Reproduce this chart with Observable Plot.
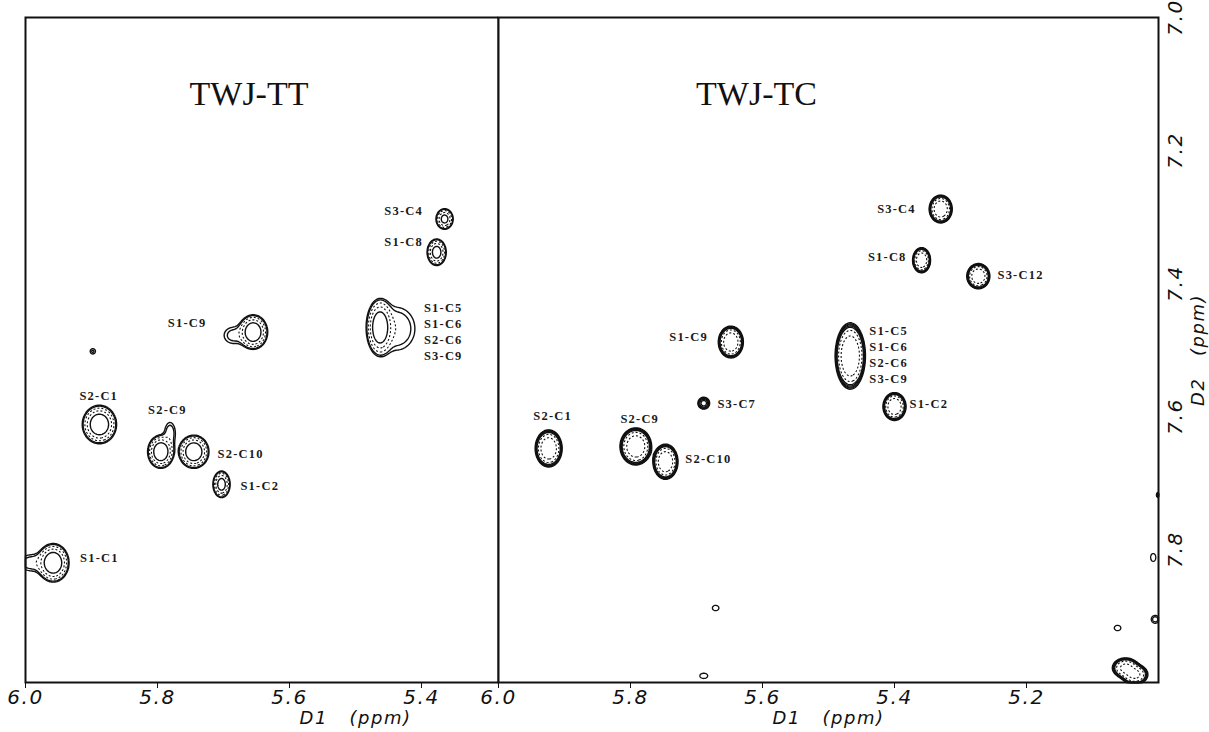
<!DOCTYPE html>
<html>
<head>
<meta charset="utf-8">
<script src="https://cdn.jsdelivr.net/npm/d3@7"></script>
<script src="https://cdn.jsdelivr.net/npm/@observablehq/plot@0.6"></script>
<style>
html, body { margin: 0; padding: 0; background: #fff; }
#wrap { position: relative; width: 1209px; height: 732px; overflow: hidden; background: #fff; }
#left { position: absolute; left: 0; top: 0; }
#right { position: absolute; left: 498px; top: 0; }
svg { overflow: visible; }
g[font-style="italic"] text { letter-spacing: 1.5px; }
g[font-weight="bold"] text { letter-spacing: 1.2px; }
</style>
</head>
<body>
<div id="wrap"><div id="left"></div><div id="right"></div></div>
<script>
// ---------- Data (ppm) ----------
// Left panel: TWJ-TT
const leftTitle = "TWJ-TT";
const leftPeakX  = [5.365, 5.377, 5.463, 5.438, 5.655, 5.685, 5.898, 5.888, 5.795, 5.781, 5.745, 5.703, 5.958, 5.990];
const leftPeakY  = [7.303, 7.353, 7.466, 7.468, 7.473, 7.478, 7.502, 7.612, 7.653, 7.625, 7.653, 7.702, 7.820, 7.820];
const leftPeakWX = [0.013, 0.0145, 0.020, 0.028, 0.022, 0.014, 0.004, 0.026, 0.020, 0.008, 0.023, 0.013, 0.024, 0.020];
const leftPeakWY = [0.0155, 0.020, 0.042, 0.032, 0.026, 0.012, 0.004, 0.029, 0.025, 0.016, 0.025, 0.020, 0.029, 0.012];
const leftPeakAmp = [60, 70, 100, 9, 100, 7, 6, 100, 100, 8, 100, 70, 100, 8];

const leftLabels = ["S3-C4", "S1-C8", "S1-C5\nS1-C6\nS2-C6\nS3-C9", "S1-C9", "S2-C1", "S2-C9", "S2-C10", "S1-C2", "S1-C1"];
const leftLabelX = [5.427, 5.427, 5.367, 5.755, 5.889, 5.785, 5.674, 5.645, 5.888];
const leftLabelY = [7.289, 7.336, 7.471, 7.458, 7.567, 7.589, 7.655, 7.703, 7.811];

// Right panel: TWJ-TC
const rightTitle = "TWJ-TC";
const rightPeakX  = [5.924, 5.792, 5.747, 5.689, 5.330, 5.359, 5.273, 5.467, 5.648, 5.400, 5.671, 5.689, 5.062, 5.005, 5.008, 5.000, 5.050, 5.036];
const rightPeakY  = [7.648, 7.645, 7.668, 7.580, 7.288, 7.365, 7.389, 7.509, 7.488, 7.585, 7.888, 7.990, 7.918, 7.905, 7.812, 7.718, 7.978, 7.988];
const rightPeakWX = [0.0205, 0.024, 0.019, 0.009, 0.0175, 0.0136, 0.0175, 0.023, 0.019, 0.0175, 0.005, 0.006, 0.005, 0.006, 0.004, 0.003, 0.020, 0.020];
const rightPeakWY = [0.028, 0.028, 0.0265, 0.009, 0.021, 0.019, 0.019, 0.050, 0.024, 0.021, 0.004, 0.004, 0.004, 0.006, 0.006, 0.004, 0.015, 0.015];
const rightPeakAmp = [100, 100, 100, 12, 100, 100, 100, 120, 100, 100, 5, 5, 5, 6, 5, 20, 50, 50];

const rightLabels = ["S2-C1", "S2-C9", "S2-C10", "S3-C7", "S3-C4", "S1-C8", "S3-C12", "S1-C5\nS1-C6\nS2-C6\nS3-C9", "S1-C9", "S1-C2"];
const rightLabelX = [5.918, 5.786, 5.682, 5.639, 5.397, 5.411, 5.209, 5.409, 5.712, 5.348];
const rightLabelY = [7.598, 7.602, 7.662, 7.579, 7.286, 7.358, 7.385, 7.506, 7.479, 7.579];

// Axes
const leftXDomain = [6.0, 5.2833];
const rightXDomain = [6.0, 5.0];
const yDomain = [7.0, 8.0];
const leftXTicks = [6.0, 5.8, 5.6, 5.4];
const rightXTicks = [6.0, 5.8, 5.6, 5.4, 5.2];
const yTicks = [7.0, 7.2, 7.4, 7.6, 7.8];
const xTitle = "D1   (ppm)";
const yTitle = "D2   (ppm)";

// Contour levels (relative intensity): solid and dotted, per panel
const leftSolidLevels = [4, 5.5, 40];
const leftDottedLevels = [10, 20];
const rightSolidLevels = [4, 5, 6, 7.5, 9.5];
const rightDottedLevels = [16, 35];
const T0 = 4;

// Sum-of-Gaussians intensity field built from the peak tables
function field(px, py, wx, wy, amp) {
  const n = px.length;
  const sx = [], sy = [];
  for (let i = 0; i < n; i++) {
    const k = Math.sqrt(2 * Math.log(amp[i] / T0));
    sx.push(wx[i] / k);
    sy.push(wy[i] / k);
  }
  return (x, y) => {
    let s = 0;
    for (let i = 0; i < n; i++) {
      const u = (x - px[i]) / sx[i], v = (y - py[i]) / sy[i];
      const e = (u * u + v * v) / 2;
      if (e < 25) s += amp[i] * Math.exp(-e);
    }
    return s;
  };
}

const ink = "#111";
const tickFont = {fontFamily: "DejaVu Sans", fontStyle: "italic", fontWeight: 300, fontSize: 20};
const labelFont = {fontFamily: "Liberation Serif", fontWeight: "bold", fontSize: 12.5, lineHeight: 1.28, fill: "#1a1a1a"};

function panel({width, marginLeft, marginRight, xDomain, xTicks, peaks, solid, dotted, strokeWidth, labels, title, titleDx, withY}) {
  const f = field(...peaks);
  const bounds = {x1: xDomain[0], x2: xDomain[1], y1: yDomain[0], y2: yDomain[1]};
  const marks = [
    Plot.contour({
      value: f, ...bounds,
      thresholds: dotted,
      fill: "none", stroke: ink, strokeWidth: 1.1, strokeDasharray: "2,2",
      pixelSize: 1, smooth: true
    }),
    Plot.contour({
      value: f, ...bounds,
      thresholds: solid,
      fill: "none", stroke: ink, strokeWidth,
      pixelSize: 1, smooth: true
    }),
    Plot.frame({stroke: ink, strokeWidth: 2}),
    Plot.axisX({
      ticks: xTicks,
      tickFormat: d => d.toFixed(1),
      tickSize: 6,
      tickPadding: 1,
      label: null,
      ...tickFont
    }),
    Plot.text(labels[0], {x: labels[1], y: labels[2], text: d => d, ...labelFont}),
    Plot.text([title], {frameAnchor: "top", dx: titleDx, dy: 63, fontFamily: "Liberation Serif", fontSize: 34, fill: ink}),
    Plot.text([xTitle], {x: [5.5], frameAnchor: "bottom", dy: 41, fontFamily: "DejaVu Sans", fontStyle: "italic", fontWeight: 300, fontSize: 18, fill: ink})
  ];
  if (withY) {
    marks.push(
      Plot.text(yTicks, {y: d => d, text: d => d.toFixed(1), frameAnchor: "right", textAnchor: "middle", dx: 17, rotate: -90, ...tickFont}),
      Plot.text([yTitle], {y: [7.5], frameAnchor: "right", textAnchor: "middle", dx: 40, rotate: -90, fontFamily: "DejaVu Sans", fontStyle: "italic", fontWeight: 300, fontSize: 18, fill: ink})
    );
  }
  return Plot.plot({
    width,
    height: 732,
    marginLeft,
    marginRight,
    marginTop: 17,
    marginBottom: 50,
    style: {background: "#fff", color: ink, overflow: "visible"},
    x: {domain: xDomain, axis: null},
    y: {domain: [yDomain[1], yDomain[0]], axis: null},
    marks
  });
}

function mount(id, opts) {
  try {
    document.getElementById(id).appendChild(panel(opts));
  } catch (e) {
    console.error(id, e && e.stack ? e.stack : e);
    throw e;
  }
}

mount("left", {
  width: 498, marginLeft: 25, marginRight: 0,
  xDomain: leftXDomain, xTicks: leftXTicks,
  peaks: [leftPeakX, leftPeakY, leftPeakWX, leftPeakWY, leftPeakAmp],
  solid: leftSolidLevels, dotted: leftDottedLevels, strokeWidth: 1.4,
  labels: [leftLabels, leftLabelX, leftLabelY],
  title: leftTitle, titleDx: -13, withY: false
});

mount("right", {
  width: 711, marginLeft: 0, marginRight: 51,
  xDomain: rightXDomain, xTicks: rightXTicks,
  peaks: [rightPeakX, rightPeakY, rightPeakWX, rightPeakWY, rightPeakAmp],
  solid: rightSolidLevels, dotted: rightDottedLevels, strokeWidth: 1.3,
  labels: [rightLabels, rightLabelX, rightLabelY],
  title: rightTitle, titleDx: -72, withY: true
});
</script>
</body>
</html>
